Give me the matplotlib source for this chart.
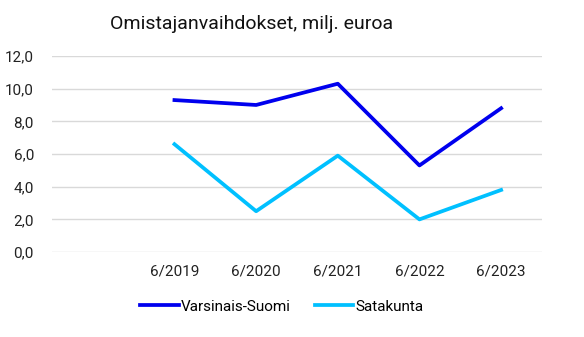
import numpy as np
import matplotlib
matplotlib.use('Agg')
import matplotlib.pyplot as plt

plt.rcParams['font.family'] = ['Roboto', 'DejaVu Sans']

categories = ['', '6/2019', '6/2020', '6/2021', '6/2022', '6/2023']
varsinais_suomi = [np.nan, 9.3, 9.0, 10.3, 5.3, 8.8]
satakunta = [np.nan, 6.6, 2.5, 5.9, 2.0, 3.8]

fig = plt.figure(figsize=(5.84, 3.37), dpi=100)
ax = fig.add_axes([0.089, 0.252, 0.839, 0.582])

x = np.arange(len(categories))
ax.plot(x, varsinais_suomi, color='#0000EE', lw=2.7, label='Varsinais-Suomi')
ax.plot(x, satakunta, color='#00C0FF', lw=2.7, label='Satakunta')

ax.set_xlim(-0.5, len(categories) - 0.5)
ax.set_ylim(0, 12)
ax.set_yticks(np.arange(0, 12.1, 2))
ax.set_yticklabels([f'{v:.1f}'.replace('.', ',') for v in np.arange(0, 12.1, 2)])
ax.set_xticks(x)
ax.set_xticklabels(categories)
ax.tick_params(length=0, labelsize=11, colors='#222222', pad=9)
ax.tick_params(axis='y', pad=13)
ax.grid(axis='y', color='#d9d9d9', lw=1)
ax.set_axisbelow(True)
for s in ax.spines.values():
    s.set_visible(False)

fig.suptitle('Omistajanvaihdokset, milj. euroa', fontsize=14, x=0.43, y=0.955, color='#111111')
fig.legend(loc='center', bbox_to_anchor=(0.483, 0.09), ncol=2, frameon=False,
           fontsize=11, handlelength=2.5, handletextpad=0.15, columnspacing=1.6)

fig.savefig('out.png', dpi=100)
